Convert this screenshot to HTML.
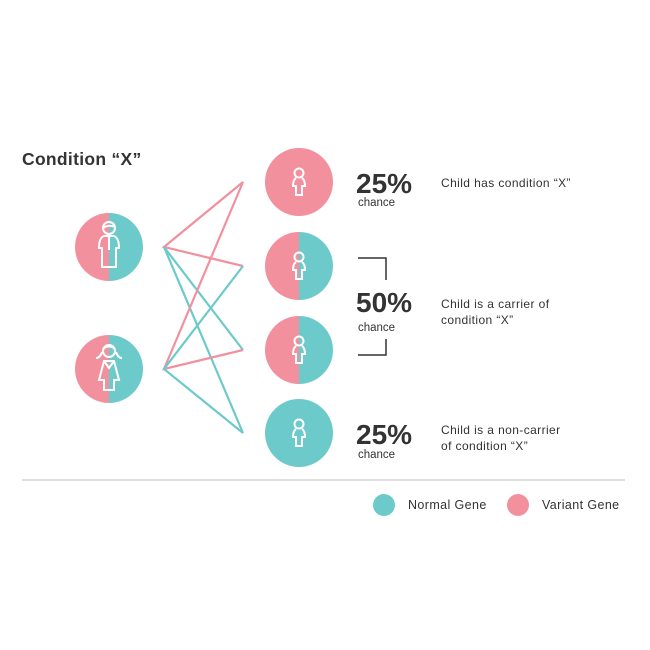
<!DOCTYPE html>
<html><head><meta charset="utf-8"><style>
body{margin:0;background:#fff;}
svg{display:block}
text{font-family:"Liberation Sans",sans-serif;fill:#333}
</style></head><body>
<svg width="650" height="650" viewBox="0 0 650 650" xmlns="http://www.w3.org/2000/svg">
<defs>
<g id="kid" fill="none" stroke="#fff" stroke-width="2">
<circle cx="0" cy="-9" r="4.5"/>
<path d="M-3,-4 Q-6,-2 -6,4 L-3,4 L-3,13 L3,13 L3,4 L6,4 Q6,-2 3,-4"/>
</g>
</defs>
<text x="22" y="165" font-size="17.5" font-weight="bold" letter-spacing="0.3">Condition “X”</text>
<path d="M109,213 A34,34 0 0 0 109,281 Z" fill="#f3909e"/>
<path d="M109,213 A34,34 0 0 1 109,281 Z" fill="#6ccacb"/>
<path d="M109,335 A34,34 0 0 0 109,403 Z" fill="#f3909e"/>
<path d="M109,335 A34,34 0 0 1 109,403 Z" fill="#6ccacb"/>
<g fill="none" stroke="#fff" stroke-width="2">
<circle cx="109" cy="228" r="6"/><path d="M103,228 Q109,224 115,227"/>
<path d="M104,236 Q99,238 99,248 L102,248 L102,267 L116,267 L116,248 L119,248 Q119,238 114,236 Z"/>
<line x1="109" y1="237" x2="109" y2="250"/>
<circle cx="109" cy="351" r="6"/><path d="M102,352 Q100,358 96,358 M116,352 Q118,358 122,358 M103,349 Q109,344 115,349"/>
<path d="M104,361 L99,380 L104,380 L104,390 L114,390 L114,380 L119,380 L114,361 Z"/>
<path d="M104,361 L109,368 L114,361"/>
</g>
<g fill="none" stroke-width="2.2">
<path d="M243,182 L164,247 L243,266" stroke="#f3909e"/>
<path d="M243,350 L164,247 L243,433" stroke="#6ccacb"/>
<path d="M243,182 L164,369 L243,350" stroke="#f3909e"/>
<path d="M243,266 L164,369 L243,433" stroke="#6ccacb"/>
</g>
<circle cx="299" cy="182" r="34" fill="#f3909e"/>
<path d="M299,232 A34,34 0 0 0 299,300 Z" fill="#f3909e"/>
<path d="M299,232 A34,34 0 0 1 299,300 Z" fill="#6ccacb"/>
<path d="M299,316 A34,34 0 0 0 299,384 Z" fill="#f3909e"/>
<path d="M299,316 A34,34 0 0 1 299,384 Z" fill="#6ccacb"/>
<circle cx="299" cy="433" r="34" fill="#6ccacb"/>
<use href="#kid" x="299" y="182"/>
<use href="#kid" x="299" y="266"/>
<use href="#kid" x="299" y="350"/>
<use href="#kid" x="299" y="433"/>
<g fill="none" stroke="#333" stroke-width="1.5">
<path d="M358,258 L386,258 L386,280"/>
<path d="M386,339 L386,355 L358,355"/>
</g>
<text x="356" y="193" font-size="28" font-weight="bold">25%</text>
<text x="358" y="206" font-size="11.5">chance</text>
<text x="356" y="312" font-size="28" font-weight="bold">50%</text>
<text x="358" y="331" font-size="11.5">chance</text>
<text x="356" y="444" font-size="28" font-weight="bold">25%</text>
<text x="358" y="458" font-size="11.5">chance</text>
<text x="441" y="187" font-size="12" letter-spacing="0.4">Child has condition “X”</text>
<text x="441" y="308" font-size="12" letter-spacing="0.4">Child is a carrier of</text>
<text x="441" y="324" font-size="12" letter-spacing="0.4">condition “X”</text>
<text x="441" y="434" font-size="12" letter-spacing="0.4">Child is a non-carrier</text>
<text x="441" y="450" font-size="12" letter-spacing="0.4">of condition “X”</text>
<line x1="22" y1="480" x2="625" y2="480" stroke="#ccc" stroke-width="1.2"/>
<circle cx="384" cy="505" r="11" fill="#6ccacb"/>
<text x="408" y="509" font-size="12.5" letter-spacing="0.4">Normal Gene</text>
<circle cx="518" cy="505" r="11" fill="#f3909e"/>
<text x="542" y="509" font-size="12.5" letter-spacing="0.4">Variant Gene</text>
</svg>
</body></html>
